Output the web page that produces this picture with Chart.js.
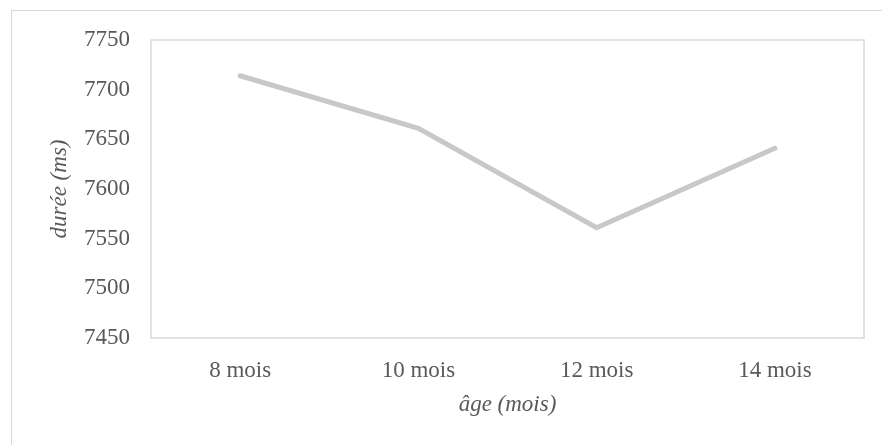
<!DOCTYPE html>
<html>
<head>
<meta charset="utf-8">
<script src="https://cdn.jsdelivr.net/npm/chart.js@4"></script>
<style>
  html, body { margin: 0; padding: 0; background: #fff; overflow: hidden; }
  #wrap { position: relative; width: 882px; height: 445px; }
  #frame { position: absolute; left: 11px; top: 10px; width: 900px; height: 500px;
           border: 1px solid #d9d9d9; box-sizing: border-box; }
  canvas { position: absolute; left: 0; top: 0; }
</style>
</head>
<body>
<div id="wrap">
  <div id="frame"></div>
  <canvas id="plot" width="882" height="445"></canvas>
</div>
<script>
// data
const ages = ["8 mois", "10 mois", "12 mois", "14 mois"];
const durees = [7714, 7661, 7561, 7641];
const yMin = 7450, yMax = 7750, yStep = 50;

const textColor = "#595959";
const serif = "'Liberation Serif', 'Times New Roman', serif";

// border around the plot area
const plotBox = {
    id: "plotBox",
    afterDraw(chart) {
        const a = chart.chartArea, ctx = chart.ctx;
        ctx.save();
        ctx.strokeStyle = "#d9d9d9";
        ctx.lineWidth = 1.5;
        ctx.strokeRect(a.left, a.top, a.right - a.left, a.bottom - a.top);
        ctx.restore();
    }
};

new Chart(document.getElementById("plot"), {
    type: "line",
    data: {
        labels: ages,
        datasets: [{
            data: durees,
            label: "durée",
            borderColor: "#c8c8c8",
            borderWidth: 5,
            borderCapStyle: "round",
            borderJoinStyle: "miter",
            pointRadius: 0,
            tension: 0,
            fill: false
        }]
    },
    options: {
        responsive: false,
        animation: false,
        layout: { padding: { top: 40, right: 18, left: 0, bottom: 0 } },
        plugins: { legend: { display: false }, tooltip: { enabled: false } },
        scales: {
            x: {
                offset: true,
                grid: { display: false, drawTicks: false },
                border: { display: false },
                ticks: { color: textColor, padding: 19, font: { family: serif, size: 23 } },
                title: {
                    display: true, text: "âge (mois)", color: textColor,
                    padding: { top: 0, bottom: 26 },
                    font: { family: serif, size: 23, style: "italic" }
                },
                afterFit(scale) { scale.height = 107; }
            },
            y: {
                min: yMin, max: yMax,
                grid: { display: false, drawTicks: false },
                border: { display: false },
                ticks: {
                    stepSize: yStep, color: textColor, padding: 21,
                    font: { family: serif, size: 23 },
                    callback: (v) => String(v)
                },
                title: {
                    display: true, text: "durée (ms)", color: textColor,
                    padding: { top: 46, bottom: 0 },
                    font: { family: serif, size: 23, style: "italic" }
                },
                afterFit(scale) { scale.width = 151; }
            }
        }
    },
    plugins: [plotBox]
});
</script>
</body>
</html>
